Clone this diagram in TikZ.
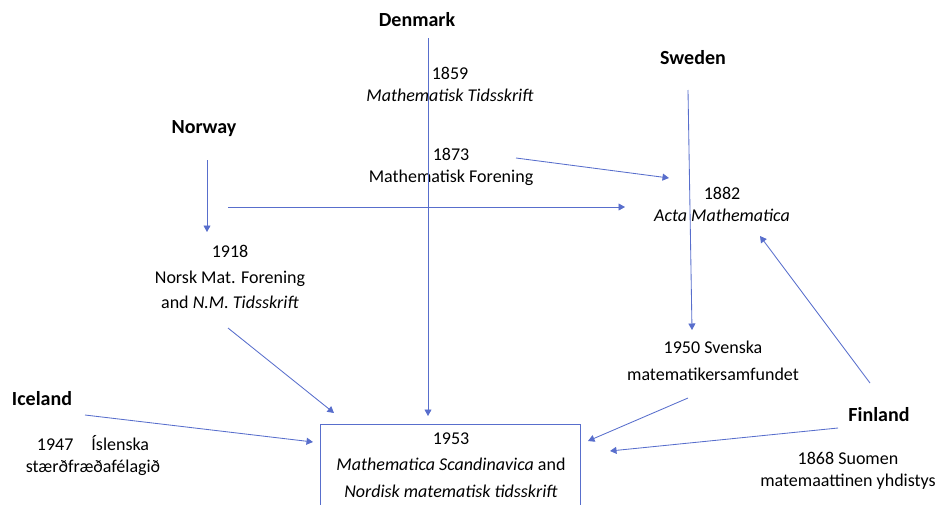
\documentclass[tikz,border=0pt]{standalone}
\usepackage{fontspec}
\setmainfont{Carlito}
\usetikzlibrary{arrows.meta}
\definecolor{linkblue}{RGB}{88,110,204}
\begin{document}
\begin{tikzpicture}[x=1pt,y=-1pt,
  txt/.style={font=\fontsize{18}{22}\selectfont, align=center, inner sep=0pt},
  country/.style={font=\fontsize{20}{24}\selectfont\bfseries, inner sep=0pt},
  link/.style={draw=linkblue, line width=0.85pt, -{Triangle[width=7pt,length=6.5pt]}}]
\useasboundingbox (0,0) rectangle (951,504);
\clip (0,0) rectangle (951,504);
% countries
\node[country] (dk) at (417,20) {Denmark};
\node[country] (se) at (693,58) {Sweden};
\node[country] (no) at (204,129) {Norway};
\node[country] (is) at (42,399) {Iceland};
\node[country] (fi) at (879,415) {Finland};
% texts
\node[txt] (mt) at (450,84) {1859\\\textit{Mathematisk Tidsskrift}};
\node[txt] (mf) at (451,167) {1873\\Mathematisk Forening};
\node[txt] (acta) at (722,204) {1882\\\textit{Acta Mathematica}};
\node[txt, font=\fontsize{18}{25.5}\selectfont] (nmf) at (230,277) {1918\\Norsk Mat. Forening\\and \textit{N.M. Tidsskrift}};
\node[txt, font=\fontsize{18}{27}\selectfont] (sv) at (713,361) {1950 Svenska\\matematikersamfundet};
\node[txt] (isl) at (93,456) {1947\hspace{1em}Íslenska\\stærðfræðafélagið};
\node[txt] (suo) at (848,471) {1868 Suomen\\matemaattinen yhdistys};
% box
\draw[draw=linkblue, line width=0.85pt] (320,424) rectangle (580,530);
\node[txt, font=\fontsize{18}{26.5}\selectfont] (ms) at (451,465) {1953\\\textit{Mathematica Scandinavica} and\\\textit{Nordisk matematisk tidsskrift}};
% connector end points
\coordinate (dkA) at (428,38);  \coordinate (dkB) at (428,416);
\coordinate (mfA) at (516,158); \coordinate (mfB) at (669,178);
\coordinate (seA) at (688,90);  \coordinate (seB) at (692,330);
\coordinate (noA) at (207,160); \coordinate (noB) at (207,232);
\coordinate (hA) at (228,207);  \coordinate (hB) at (625,207);
\coordinate (nmA) at (228,328); \coordinate (nmB) at (334,413);
\coordinate (isA) at (85,415);  \coordinate (isB) at (313,442);
\coordinate (svA) at (688,398); \coordinate (svB) at (588,441);
\coordinate (fiA) at (838,428); \coordinate (fiB) at (610,451);
\coordinate (fuA) at (870,383); \coordinate (fuB) at (760,236);
% connectors
\draw[link] (dkA) -- (dkB);
\draw[link] (mfA) -- (mfB);
\draw[link] (seA) -- (seB);
\draw[link] (noA) -- (noB);
\draw[link] (hA) -- (hB);
\draw[link] (nmA) -- (nmB);
\draw[link] (isA) -- (isB);
\draw[link] (svA) -- (svB);
\draw[link] (fiA) -- (fiB);
\draw[link] (fuA) -- (fuB);
\end{tikzpicture}
\end{document}
